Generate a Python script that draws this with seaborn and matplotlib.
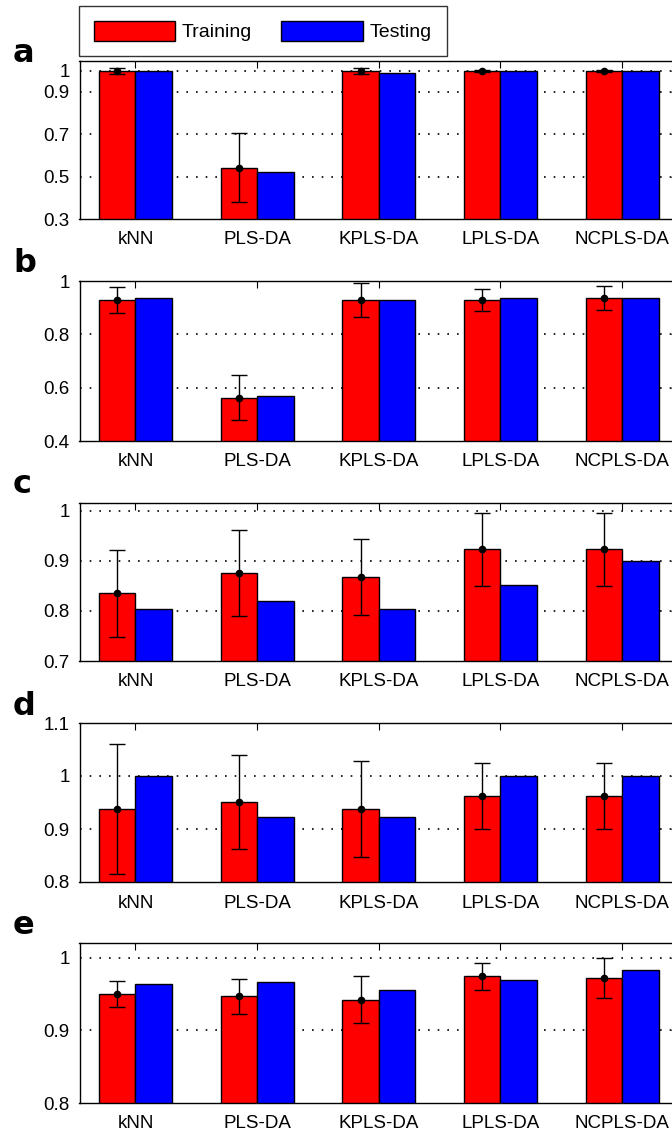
import numpy as np
import pandas as pd
import matplotlib
matplotlib.use("Agg")
import matplotlib.pyplot as plt
import seaborn as sns

methods = ["kNN", "PLS-DA", "KPLS-DA", "LPLS-DA", "NCPLS-DA"]
series = ["Training", "Testing"]

train_a = [0.998, 0.543, 0.998, 1.000, 1.000]
err_a = [0.015, 0.165, 0.015, 0.005, 0.005]
test_a = [1.000, 0.524, 0.990, 1.000, 1.000]

train_b = [0.929, 0.563, 0.929, 0.929, 0.937]
err_b = [0.048, 0.085, 0.063, 0.041, 0.045]
test_b = [0.937, 0.570, 0.929, 0.937, 0.937]

train_c = [0.835, 0.876, 0.867, 0.923, 0.923]
err_c = [0.087, 0.086, 0.076, 0.073, 0.073]
test_c = [0.804, 0.819, 0.804, 0.852, 0.900]

train_d = [0.938, 0.951, 0.938, 0.962, 0.962]
err_d = [0.123, 0.088, 0.091, 0.062, 0.062]
test_d = [1.000, 0.923, 0.923, 1.000, 1.000]

train_e = [0.950, 0.947, 0.942, 0.974, 0.972]
err_e = [0.018, 0.024, 0.032, 0.019, 0.027]
test_e = [0.964, 0.967, 0.956, 0.969, 0.983]

panel_letters = ["a", "b", "c", "d", "e"]
yticks_list = [[0.3, 0.5, 0.7, 0.9, 1], [0.4, 0.6, 0.8, 1], [0.7, 0.8, 0.9, 1],
               [0.8, 0.9, 1, 1.1], [0.8, 0.9, 1]]
ylims = [(0.3, 1.046), (0.4, 1.0), (0.7, 1.015), (0.8, 1.1), (0.8, 1.02)]

sns.set_style("white")
plt.rcParams["font.family"] = ["Liberation Sans", "DejaVu Sans"]
plt.rcParams["text.color"] = "black"

W, H = 672, 1135
fig = plt.figure(figsize=(W / 100, H / 100), dpi=100)

rows = [(61, 219), (281, 441), (503, 661), (723, 882), (943, 1103)]
left_px, right_px = 79.5, 678
letter_base = [62, 272, 493, 715, 934]

data = [(train_a, test_a, err_a), (train_b, test_b, err_b), (train_c, test_c, err_c),
        (train_d, test_d, err_d), (train_e, test_e, err_e)]

handles = labels = None
for i, ((tr, te, er), (top, bot)) in enumerate(zip(data, rows)):
    ax = fig.add_axes([left_px / W, 1 - bot / H, (right_px - left_px) / W, (bot - top) / H])
    df = pd.DataFrame({
        "method": methods * 2,
        "set": ["Training"] * 5 + ["Testing"] * 5,
        "value": list(tr) + list(te),
    })
    sns.barplot(data=df, x="method", y="value", hue="set", hue_order=series,
                order=methods, palette={"Training": "#ff0000", "Testing": "#0000ff"},
                width=0.6, edgecolor="black", linewidth=1.0, errorbar=None,
                saturation=1, ax=ax, zorder=2)
    if i == 0:
        handles, labels = ax.get_legend_handles_labels()
    if ax.get_legend() is not None:
        ax.get_legend().remove()
    train_bars = ax.containers[0]
    xs = [p.get_x() + p.get_width() / 2 for p in train_bars]
    ax.errorbar(xs, tr, yerr=er, fmt="o", color="black", ecolor="black",
                elinewidth=1.0, capsize=6, capthick=1.0, markersize=4.5, zorder=4)
    ax.set_xlim(-0.46, 4.46)
    lo, hi = ylims[i]
    ax.set_ylim(lo, hi)
    ax.set_yticks(yticks_list[i])
    ax.set_yticklabels([f"{v:g}" for v in yticks_list[i]])
    ax.set_xlabel("")
    ax.set_ylabel("")
    for v in yticks_list[i]:
        if lo + 1e-9 < v < hi - 1e-9:
            ax.axhline(v, color="black", linewidth=1.2, linestyle=(0, (1.0, 4.8)), zorder=0.5)
    ax.tick_params(axis="both", direction="in", length=5, width=0.8,
                   top=True, right=True, labelsize=13.5, colors="black")
    ax.tick_params(axis="x", pad=9)
    ax.tick_params(axis="y", pad=7)
    for s in ax.spines.values():
        s.set_visible(True)
        s.set_color("black")
        s.set_linewidth(1.0)
        s.set_zorder(5)
    fig.text(13 / W, 1 - letter_base[i] / H, panel_letters[i], fontsize=23,
             fontweight="bold", family="DejaVu Sans", color="black",
             ha="left", va="baseline")

leg = fig.legend(handles, labels, loc="upper left",
                 bbox_to_anchor=(79 / W, 1 - 6 / H), ncol=2, frameon=True,
                 fontsize=14, handlelength=4.2, handleheight=1.25,
                 handletextpad=0.35, columnspacing=1.5, borderpad=0.75,
                 borderaxespad=0, fancybox=False)
leg.get_frame().set_edgecolor("black")
leg.get_frame().set_linewidth(1.0)
for t in leg.get_texts():
    t.set_color("black")

fig.savefig("out.png", dpi=100)
